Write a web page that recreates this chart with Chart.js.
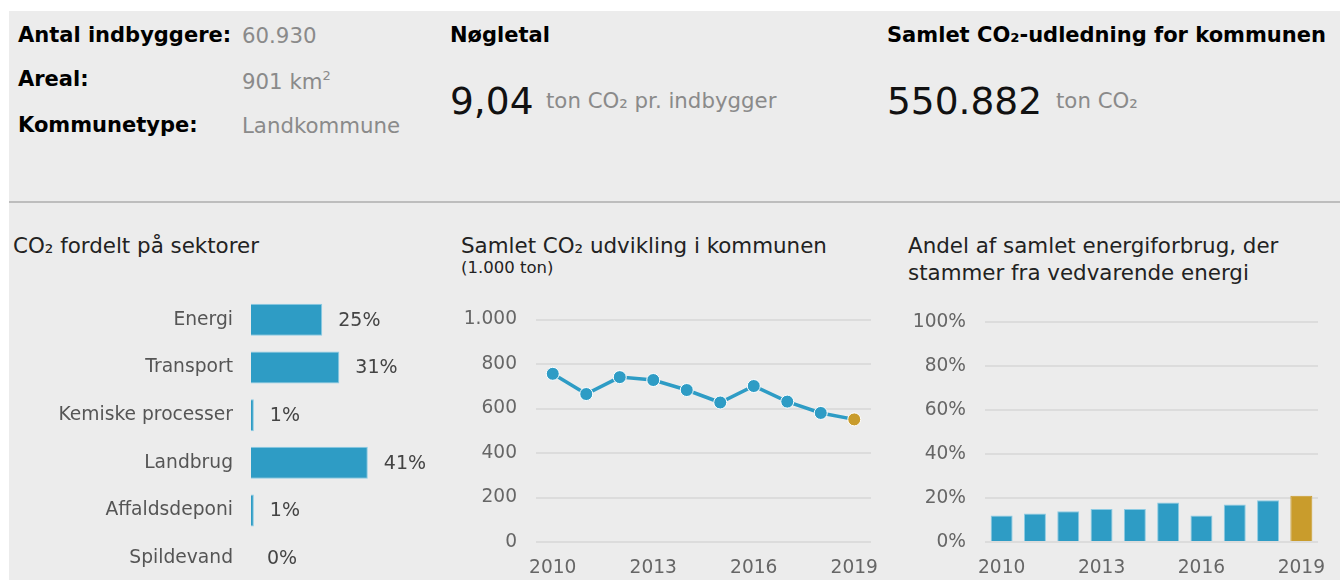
<!DOCTYPE html>
<html lang="da">
<head>
<meta charset="utf-8">
<script src="https://cdn.jsdelivr.net/npm/chart.js@4"></script>
<style>
  html, body { margin: 0; padding: 0; }
  body { width: 1340px; height: 580px; overflow: hidden; position: relative; background: #fff;
         font-family: "DejaVu Sans", Verdana, sans-serif; }
  .panel { position: absolute; left: 9px; top: 11px; width: 1331px; height: 569px; background: #ececec; }
  .sep { position: absolute; left: 9px; top: 201px; width: 1331px; height: 2px; background: #bdbdbd; }
  .t { position: absolute; white-space: nowrap; line-height: 1; }
  .b { font-weight: bold; font-size: 21px; color: #000; }
  .g { font-size: 21.3px; color: #8a8a8a; }
  .big { font-size: 37.5px; color: #111; }
  .title { font-size: 21.4px; color: #222; }
  canvas { position: absolute; }
</style>
</head>
<body>
<div class="panel"></div>
<div class="sep"></div>

<div class="t b" style="left:18px; top:25px">Antal indbyggere:</div>
<div class="t g" style="left:242px; top:25px">60.930</div>
<div class="t b" style="left:18px; top:69px">Areal:</div>
<div class="t g" style="left:242px; top:69px">901 km<sup style="font-size:13px; vertical-align:9px">2</sup></div>
<div class="t b" style="left:18px; top:115px">Kommunetype:</div>
<div class="t g" style="left:242px; top:115px">Landkommune</div>

<div class="t b" style="left:450px; top:25px">Nøgletal</div>
<div class="t big" style="left:450px; top:83px">9,04</div>
<div class="t g" style="left:546px; top:90px">ton CO₂ pr. indbygger</div>

<div class="t b" style="left:887px; top:25px">Samlet CO₂-udledning for kommunen</div>
<div class="t big" style="left:887px; top:83px">550.882</div>
<div class="t g" style="left:1056px; top:90px">ton CO₂</div>

<div class="t title" style="left:13px; top:235px">CO₂ fordelt på sektorer</div>
<div class="t title" style="left:461px; top:235px">Samlet CO₂ udvikling i kommunen</div>
<div class="t" style="left:461px; top:260px; font-size:16.5px; color:#222">(1.000 ton)</div>
<div class="t title" style="left:908px; top:232px; line-height:27px">Andel af samlet energiforbrug, der<br>stammer fra vedvarende energi</div>

<canvas id="sectors" width="440" height="286" style="left:9px; top:296px"></canvas>
<canvas id="trend" width="440" height="280" style="left:450px; top:300px"></canvas>
<canvas id="renew" width="450" height="280" style="left:890px; top:300px"></canvas>

<script>
// data
const sectorNames = ['Energi', 'Transport', 'Kemiske processer', 'Landbrug', 'Affaldsdeponi', 'Spildevand'];
const sectorShare = [25, 31, 1, 41, 1, 0];

const years = ['2010', '2011', '2012', '2013', '2014', '2015', '2016', '2017', '2018', '2019'];
const co2Total = [756, 665, 741, 728, 683, 627, 701, 631, 580, 551];   // 1.000 ton
const renewShare = [12, 13, 14, 15, 15, 18, 12, 17, 19, 21];          // %

const BLUE = '#2e9cc5';
const GOLD = '#c99c2c';
const GRID = '#dcdcdc';
const TICK = '#666';

Chart.defaults.font.family = '"DejaVu Sans", Verdana, sans-serif';
Chart.defaults.font.size = 18.6;
Chart.defaults.color = TICK;
Chart.defaults.animation = false;
Chart.defaults.responsive = false;
Chart.defaults.devicePixelRatio = 1;
Chart.defaults.plugins.legend.display = false;
Chart.defaults.plugins.tooltip.enabled = false;

const dkNum = (v) => String(v).replace(/\B(?=(\d{3})+(?!\d))/g, '.');
const everyThird = function (v, i) { return i % 3 === 0 ? this.getLabelForValue(v) : ''; };
const lastGold = (arr) => arr.map((_, i) => i === arr.length - 1 ? GOLD : BLUE);
// keep tick label overflow from shrinking the plot area
const fixY = (w) => (s) => { s.width = w; s.paddingTop = 0; s.paddingBottom = 0; };
const fixX = (h) => (s) => { s.height = h; s.paddingLeft = 0; s.paddingRight = 0; };

// percent labels to the right of the sector bars
const barValueLabels = {
    id: 'barValueLabels',
    afterDatasetsDraw(chart) {
        const ctx = chart.ctx;
        const meta = chart.getDatasetMeta(0);
        ctx.save();
        ctx.font = '19px "DejaVu Sans", Verdana, sans-serif';
        ctx.fillStyle = '#444';
        ctx.textAlign = 'left';
        ctx.textBaseline = 'middle';
        meta.data.forEach((bar, i) => ctx.fillText(sectorShare[i] + '%', bar.x + 16, bar.y + 1));
        ctx.restore();
    }
};

new Chart(document.getElementById('sectors'), {
    type: 'bar',
    data: {
        labels: sectorNames,
        datasets: [{ data: sectorShare, backgroundColor: BLUE, borderColor: '#8ccbe3', borderWidth: 1,
                     barPercentage: 0.67, categoryPercentage: 1 }]
    },
    options: {
        indexAxis: 'y',
        layout: { padding: { right: 10, top: 0, bottom: 0 } },
        scales: {
            x: { display: false, min: 0, max: 66 },
            y: {
                grid: { display: false, drawTicks: false }, border: { display: false },
                ticks: { color: '#555', padding: 18, font: { size: 18.7 } },
                afterFit: fixY(242)
            }
        }
    },
    plugins: [barValueLabels]
});

new Chart(document.getElementById('trend'), {
    type: 'line',
    data: {
        labels: years,
        datasets: [{
            data: co2Total, borderColor: BLUE, borderWidth: 3.5, tension: 0,
            pointRadius: 6.5, pointBorderWidth: 1, pointBorderColor: '#fff',
            pointBackgroundColor: lastGold(co2Total)
        }]
    },
    options: {
        layout: { padding: { top: 19.5, right: 19 } },
        scales: {
            x: {
                offset: true,
                grid: { display: false, drawTicks: false }, border: { display: false },
                ticks: { autoSkip: false, maxRotation: 0, padding: 15, callback: everyThird },
                afterFit: fixX(38)
            },
            y: {
                min: 0, max: 1000,
                grid: { color: GRID, lineWidth: 2, drawTicks: false }, border: { display: false },
                ticks: { stepSize: 200, padding: 19, callback: dkNum },
                afterFit: fixY(86)
            }
        }
    }
});

new Chart(document.getElementById('renew'), {
    type: 'bar',
    data: {
        labels: years,
        datasets: [{
            data: renewShare, backgroundColor: lastGold(renewShare),
            borderColor: renewShare.map((_, i) => i === renewShare.length - 1 ? GOLD : '#8ccbe3'),
            borderWidth: 1, barPercentage: 0.66, categoryPercentage: 1
        }]
    },
    options: {
        layout: { padding: { top: 22, right: 22 } },
        scales: {
            x: {
                grid: { display: false, drawTicks: false }, border: { display: false },
                ticks: { autoSkip: false, maxRotation: 0, padding: 15, callback: everyThird },
                afterFit: fixX(38)
            },
            y: {
                min: 0, max: 100,
                grid: { color: GRID, lineWidth: 2, drawTicks: false }, border: { display: false },
                ticks: { stepSize: 20, padding: 19, callback: (v) => v + '%' },
                afterFit: fixY(95)
            }
        }
    }
});
</script>
</body>
</html>
